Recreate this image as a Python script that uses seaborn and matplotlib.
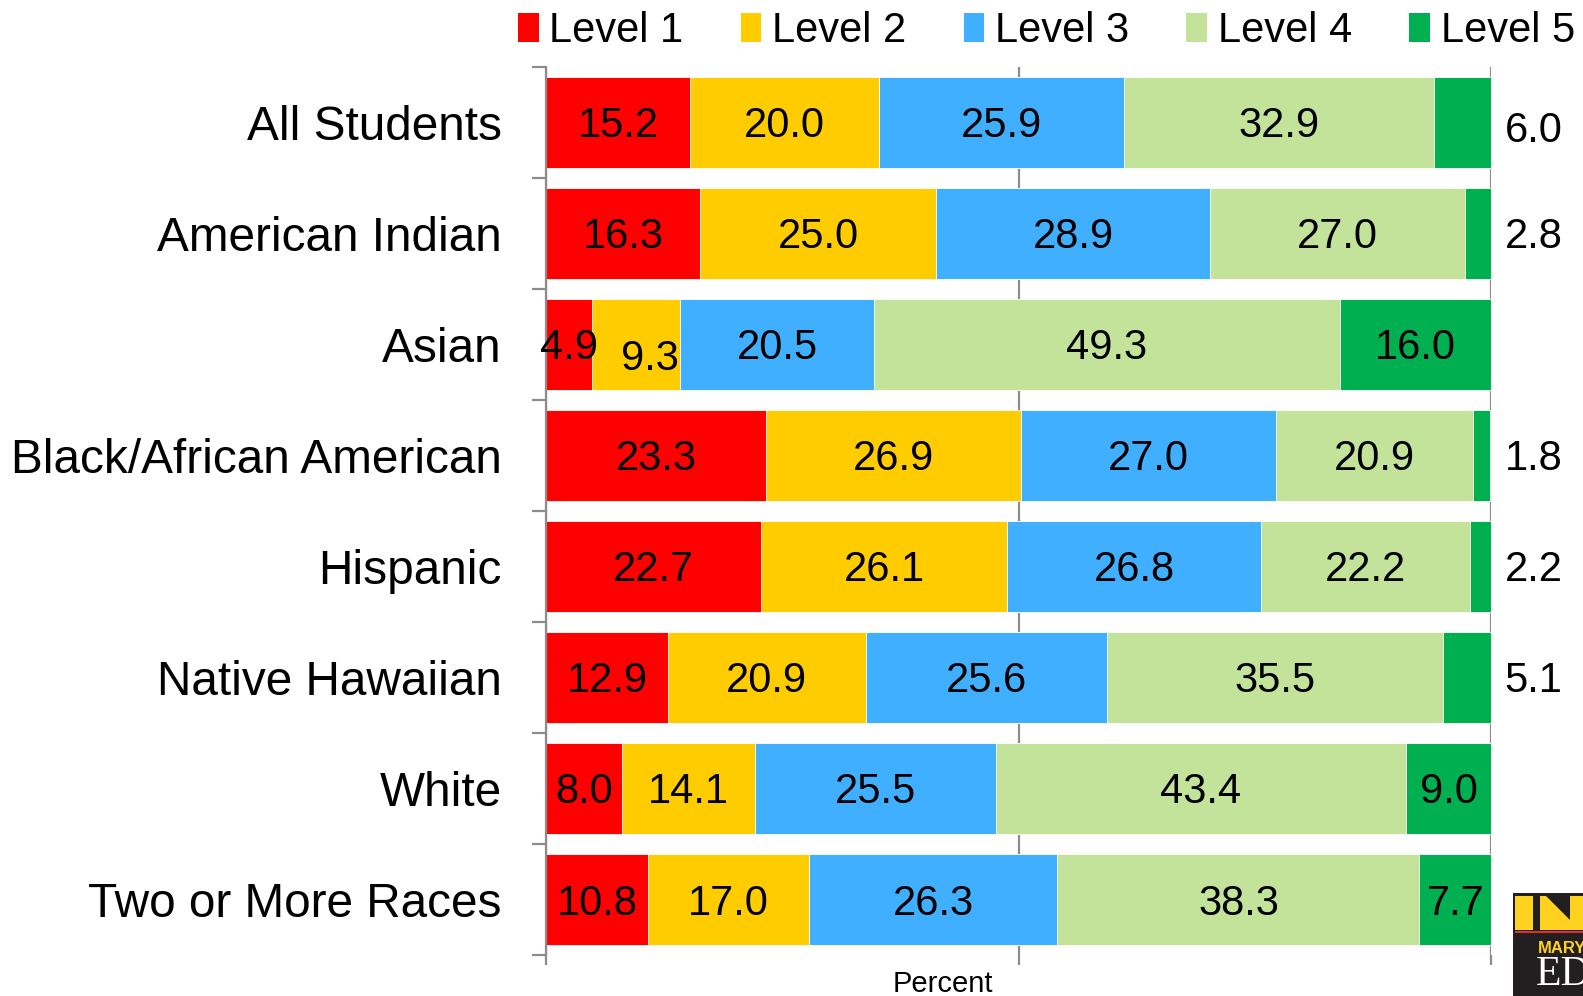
import numpy as np
import pandas as pd
import matplotlib
matplotlib.use("Agg")
import matplotlib.pyplot as plt
from matplotlib.patches import Patch, Rectangle, Polygon
import seaborn as sns

groups = ["All Students", "American Indian", "Asian", "Black/African American",
          "Hispanic", "Native Hawaiian", "White", "Two or More Races"]
levels = ["Level 1", "Level 2", "Level 3", "Level 4", "Level 5"]
level1 = [15.2, 16.3, 4.9, 23.3, 22.7, 12.9, 8.0, 10.8]
level2 = [20.0, 25.0, 9.3, 26.9, 26.1, 20.9, 14.1, 17.0]
level3 = [25.9, 28.9, 20.5, 27.0, 26.8, 25.6, 25.5, 26.3]
level4 = [32.9, 27.0, 49.3, 20.9, 22.2, 35.5, 43.4, 38.3]
level5 = [6.0, 2.8, 16.0, 1.8, 2.2, 5.1, 9.0, 7.7]
colors = ["#FF0000", "#FFCC00", "#41AFFF", "#C3E39B", "#00B050"]

sns.set_style("white")
plt.rcParams["font.family"] = ["Liberation Sans", "DejaVu Sans"]
plt.rcParams["text.color"] = "black"

values = np.array([level1, level2, level3, level4, level5])
cum = np.cumsum(values, axis=0)

fig = plt.figure(figsize=(15.83, 9.96), dpi=100)
ax = fig.add_axes([0.345, 0.041, 0.597, 0.892])

for i in range(len(levels) - 1, -1, -1):
    df = pd.DataFrame({"Group": groups, "cum": cum[i]})
    sns.barplot(data=df, y="Group", x="cum", order=groups, color=colors[i],
                orient="h", width=0.82, saturation=1, ax=ax,
                edgecolor="white", linewidth=0.6, zorder=3)

ax.set_xlim(0, 100)
ax.set_ylim(7.5, -0.5)

# segment labels
for j, g in enumerate(groups):
    for i in range(5):
        v = values[i, j]
        left = cum[i, j] - v
        x = left + v / 2
        y = j + 0.035
        ha = "center"
        if i == 4 and v < 7:
            x = 101.4
            ha = "left"
            if j == 0:
                y = j + 0.08
        if g == "Asian" and i == 1:
            x = 11.0
            y = j + 0.13
        ax.text(x, y, f"{v:.1f}", ha=ha, va="center", fontsize=30,
                color="black", zorder=5, clip_on=False)

# axes styling
for s in ["top", "right", "bottom"]:
    ax.spines[s].set_visible(False)
ax.spines["left"].set_color("#8C8C8C")
ax.spines["left"].set_linewidth(1.6)
ax.spines["left"].set_zorder(4)

ax.set_xticks([0, 50, 100])
ax.set_xticklabels([])
ax.tick_params(axis="x", bottom=True, length=7, width=1.6, color="#8C8C8C")
ax.xaxis.grid(True, color="#8C8C8C", linewidth=1.6, zorder=0)
ax.set_axisbelow(True)

ax.set_yticks(range(len(groups)))
ax.set_yticklabels(groups, fontsize=34.4, color="black")
ax.tick_params(axis="y", which="major", length=0, pad=32, labelcolor="black")
ax.set_yticks(np.arange(-0.5, 8, 1), minor=True)
ax.tick_params(axis="y", which="minor", left=True, length=10, width=1.6,
               color="#8C8C8C")
ax.set_ylabel("")
ax.set_xlabel("Percent", fontsize=21, color="black")
ax.xaxis.set_label_coords(0.42, -0.017)

handles = [Patch(facecolor=c, edgecolor="none") for c in colors]
fig.legend(handles, levels, loc="upper left", bbox_to_anchor=(0.3165, 1.006),
           ncol=5, frameon=False, fontsize=30, handlelength=0.5,
           handleheight=0.7, handletextpad=0.25, columnspacing=1.38,
           borderaxespad=0, labelcolor="black")

# logo (partially cut off at the figure edge, as in the original)
W, H = 1583, 996
def fx(x): return x / W
def fy(y): return 1 - y / H
fig.patches.append(Rectangle((fx(1513), fy(996)), fx(80), 103 / H,
                             transform=fig.transFigure, facecolor="#231F20",
                             edgecolor="none", zorder=10))
fig.patches.append(Rectangle((fx(1515), fy(930)), fx(18), 34 / H,
                             transform=fig.transFigure, facecolor="#FFD21F",
                             edgecolor="none", zorder=11))
fig.patches.append(Polygon([(fx(1540), fy(930)), (fx(1540), fy(896)),
                            (fx(1546), fy(896)), (fx(1570), fy(920)),
                            (fx(1570), fy(896)), (fx(1590), fy(896)),
                            (fx(1590), fy(930))],
                           closed=True, transform=fig.transFigure,
                           facecolor="#FFD21F", edgecolor="none", zorder=11))
fig.patches.append(Rectangle((fx(1515), fy(933)), fx(75), 2.5 / H,
                             transform=fig.transFigure, facecolor="#E0312B",
                             edgecolor="none", zorder=11))
fig.text(fx(1538), fy(948), "MARY", color="#FFD21F", fontsize=12,
         fontweight="bold", va="center", ha="left", zorder=12)
fig.text(fx(1536), fy(975), "ED", color="white", fontsize=30,
         family="Liberation Serif", va="center", ha="left", zorder=12)

fig.savefig("out.png", dpi=100)
